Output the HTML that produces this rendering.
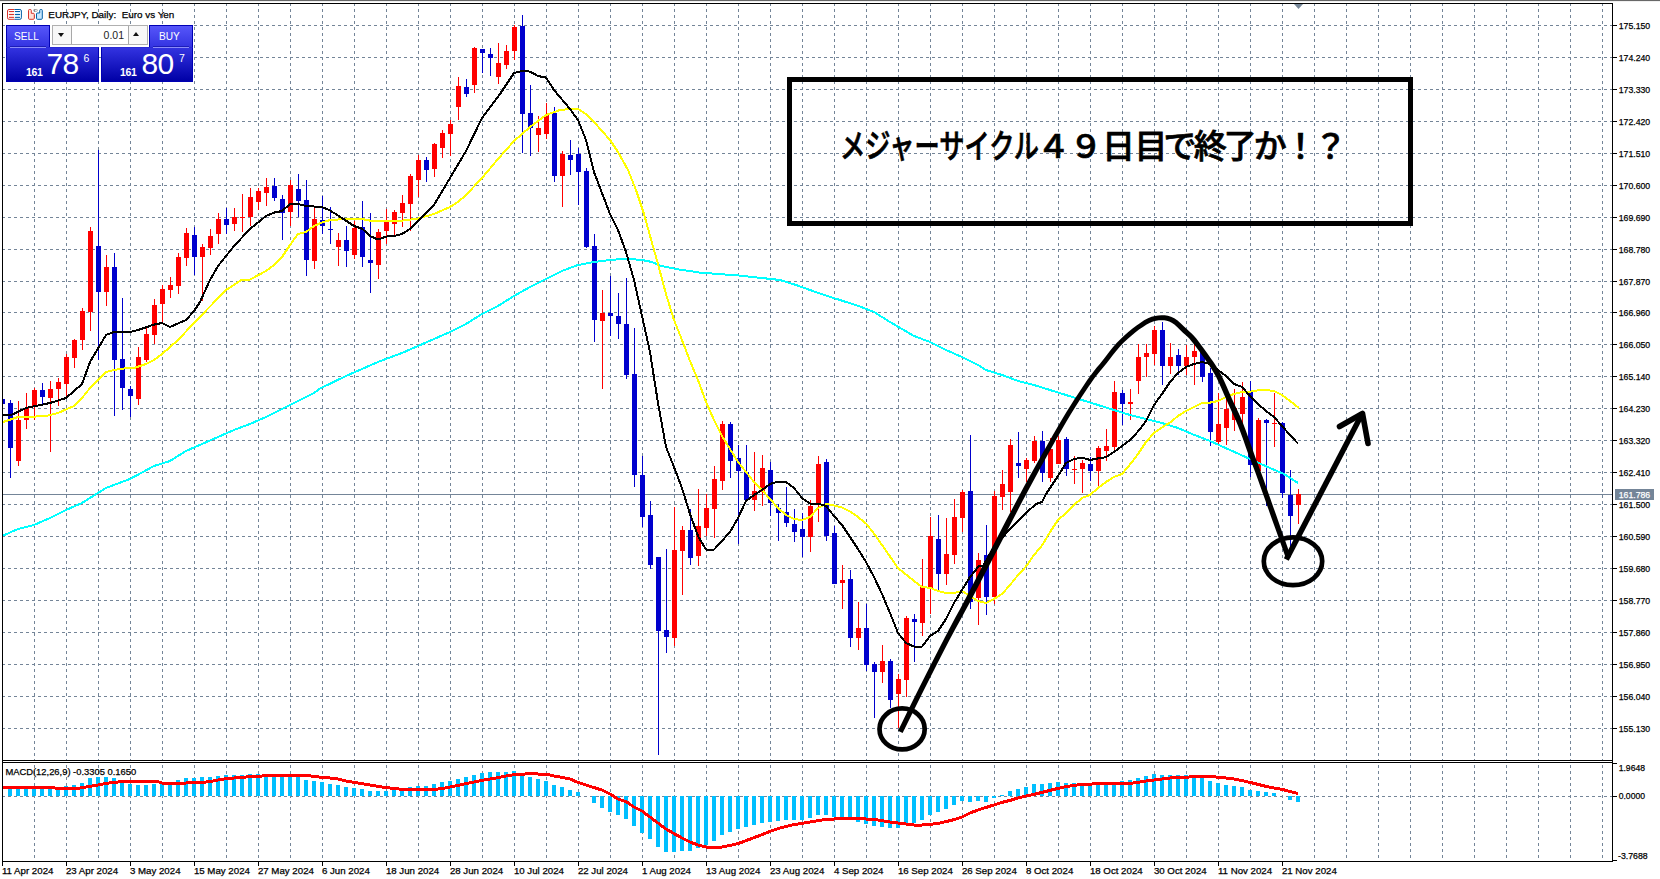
<!DOCTYPE html>
<html lang="ja"><head><meta charset="utf-8"><title>EURJPY, Daily</title>
<style>
html,body{margin:0;padding:0;background:#fff;}
body{width:1660px;height:879px;position:relative;overflow:hidden;font-family:"Liberation Sans","Noto Sans CJK JP",sans-serif;}
svg{position:absolute;left:0;top:0;display:block;}
.ax{font-family:"Liberation Sans",sans-serif;font-size:9.7px;fill:#000;stroke:#000;stroke-width:0.25px;}
.dt{font-family:"Liberation Sans",sans-serif;font-size:9.7px;fill:#000;stroke:#000;stroke-width:0.25px;}
.crisp{shape-rendering:crispEdges;}
#oct{position:absolute;left:0;top:0;width:200px;height:90px;font-family:"Liberation Sans",sans-serif;color:#fff;}
#oct div{position:absolute;box-sizing:border-box;}
.btn{background:linear-gradient(#5656fa,#3232e0);border:1px solid #0000b4;border-bottom:0;text-align:center;font-size:11px;line-height:20px;}
.btn b{font-weight:normal;display:inline-block;transform:scaleX(0.92);position:relative;left:-1.5px;top:-0.5px;}
.pr{background:linear-gradient(#3232e0,#0000a6);border:1px solid #0000b4;border-top-color:#2a2ad4;}
.pr span{position:absolute;white-space:nowrap;line-height:1;}
#note{position:absolute;left:787px;top:77px;width:626px;height:149px;box-sizing:border-box;border:5px solid #000;}
#note p{position:absolute;margin:0;left:48px;top:44.5px;white-space:nowrap;font-family:"Liberation Sans","Noto Sans CJK JP",sans-serif;font-weight:500;-webkit-text-stroke:0.7px #000;font-size:33px;line-height:40px;color:#000;}
#note .k{display:inline-block;transform:scaleX(0.765);transform-origin:0 50%;margin-right:-63px;}
#note .d{letter-spacing:-0.5px;}
#note .h{letter-spacing:-2.9px;margin-left:-3.5px;}
</style></head>
<body>
<svg width="1660" height="879" viewBox="0 0 1660 879">
<defs><clipPath id="cm"><rect x="3" y="4" width="1609" height="756"/></clipPath><clipPath id="cd"><rect x="3" y="763" width="1609" height="98"/></clipPath></defs>
<rect x="0" y="0" width="1660" height="1" fill="#686868"/><rect x="0" y="1" width="1660" height="1" fill="#f0f0f0"/>
<path class="crisp" d="M34.5 3V861M66.5 3V861M98.5 3V861M130.5 3V861M162.5 3V861M194.5 3V861M226.5 3V861M258.5 3V861M290.5 3V861M322.5 3V861M354.5 3V861M386.5 3V861M418.5 3V861M450.5 3V861M482.5 3V861M514.5 3V861M546.5 3V861M578.5 3V861M610.5 3V861M642.5 3V861M674.5 3V861M706.5 3V861M738.5 3V861M770.5 3V861M802.5 3V861M834.5 3V861M866.5 3V861M898.5 3V861M930.5 3V861M962.5 3V861M994.5 3V861M1026.5 3V861M1058.5 3V861M1090.5 3V861M1122.5 3V861M1154.5 3V861M1186.5 3V861M1218.5 3V861M1250.5 3V861M1282.5 3V861M1314.5 3V861M1346.5 3V861M1378.5 3V861M1410.5 3V861M1442.5 3V861M1474.5 3V861M1506.5 3V861M1538.5 3V861M1570.5 3V861M1602.5 3V861M2 25.5H1612M2 57.5H1612M2 89.5H1612M2 121.5H1612M2 153.5H1612M2 185.5H1612M2 217.5H1612M2 249.5H1612M2 281.5H1612M2 312.5H1612M2 344.5H1612M2 376.5H1612M2 408.5H1612M2 440.5H1612M2 472.5H1612M2 504.5H1612M2 536.5H1612M2 568.5H1612M2 600.5H1612M2 632.5H1612M2 664.5H1612M2 696.5H1612M2 728.5H1612M2 796.5H1612" stroke="#748598" stroke-width="1" stroke-dasharray="3 3" fill="none"/>
<rect class="crisp" x="3" y="494" width="1609" height="1" fill="#748598"/>
<g class="crisp" clip-path="url(#cm)">
<path d="M18 401h1v65h-1zM16 420h5v41h-5zM26 393h1v36h-1zM24 408h5v12h-5zM34 388h1v32h-1zM32 390h5v17h-5zM50 381h1v71h-1zM48 389h5v9h-5zM58 378h1v28h-1zM56 382h5v7h-5zM66 354h1v42h-1zM64 357h5v27h-5zM74 339h1v29h-1zM72 340h5v18h-5zM82 308h1v42h-1zM80 311h5v29h-5zM90 227h1v104h-1zM88 231h5v81h-5zM106 255h1v51h-1zM104 267h5v25h-5zM138 347h1v58h-1zM136 357h5v42h-5zM146 328h1v34h-1zM144 334h5v26h-5zM154 299h1v45h-1zM152 305h5v30h-5zM162 285h1v37h-1zM160 289h5v15h-5zM170 277h1v21h-1zM168 285h5v5h-5zM178 253h1v41h-1zM176 257h5v29h-5zM186 228h1v38h-1zM184 233h5v25h-5zM202 244h1v57h-1zM200 247h5v10h-5zM210 229h1v26h-1zM208 236h5v12h-5zM218 213h1v31h-1zM216 219h5v15h-5zM234 208h1v23h-1zM232 217h5v7h-5zM242 194h1v38h-1zM240 217h5v1h-5zM250 188h1v38h-1zM248 197h5v20h-5zM258 188h1v22h-1zM256 191h5v11h-5zM266 178h1v28h-1zM264 187h5v6h-5zM290 180h1v46h-1zM288 185h5v27h-5zM314 207h1v62h-1zM312 219h5v42h-5zM338 233h1v33h-1zM336 240h5v7h-5zM354 221h1v38h-1zM352 228h5v27h-5zM378 229h1v50h-1zM376 232h5v33h-5zM386 209h1v35h-1zM384 221h5v10h-5zM394 210h1v25h-1zM392 212h5v12h-5zM402 195h1v32h-1zM400 203h5v10h-5zM410 174h1v57h-1zM408 176h5v28h-5zM418 155h1v42h-1zM416 160h5v20h-5zM434 143h1v34h-1zM432 144h5v25h-5zM442 130h1v28h-1zM440 133h5v15h-5zM450 120h1v36h-1zM448 124h5v10h-5zM458 77h1v43h-1zM456 86h5v21h-5zM474 47h1v46h-1zM472 48h5v37h-5zM498 43h1v41h-1zM496 63h5v14h-5zM506 45h1v24h-1zM504 51h5v14h-5zM514 25h1v35h-1zM512 27h5v24h-5zM538 116h1v36h-1zM536 128h5v7h-5zM546 103h1v36h-1zM544 115h5v19h-5zM562 151h1v56h-1zM560 154h5v22h-5zM602 290h1v99h-1zM600 313h5v8h-5zM674 507h1v139h-1zM672 550h5v88h-5zM682 526h1v69h-1zM680 530h5v21h-5zM698 489h1v77h-1zM696 526h5v30h-5zM706 494h1v42h-1zM704 508h5v20h-5zM714 466h1v72h-1zM712 479h5v30h-5zM722 421h1v69h-1zM720 424h5v57h-5zM754 452h1v59h-1zM752 491h5v9h-5zM762 455h1v51h-1zM760 468h5v24h-5zM810 500h1v52h-1zM808 506h5v31h-5zM818 456h1v66h-1zM816 464h5v41h-5zM842 565h1v44h-1zM840 580h5v3h-5zM858 602h1v48h-1zM856 628h5v10h-5zM882 645h1v38h-1zM880 661h5v11h-5zM898 674h1v54h-1zM896 679h5v15h-5zM906 616h1v81h-1zM904 618h5v62h-5zM922 559h1v77h-1zM920 586h5v37h-5zM930 517h1v97h-1zM928 536h5v52h-5zM946 518h1v67h-1zM944 554h5v20h-5zM954 499h1v65h-1zM952 517h5v38h-5zM962 490h1v42h-1zM960 492h5v26h-5zM978 553h1v72h-1zM976 560h5v38h-5zM994 491h1v113h-1zM992 496h5v101h-5zM1002 470h1v40h-1zM1000 484h5v13h-5zM1010 439h1v73h-1zM1008 445h5v47h-5zM1026 458h1v24h-1zM1024 460h5v9h-5zM1034 436h1v27h-1zM1032 441h5v20h-5zM1050 438h1v44h-1zM1048 449h5v29h-5zM1058 436h1v28h-1zM1056 440h5v24h-5zM1074 456h1v28h-1zM1072 469h5v1h-5zM1082 460h1v33h-1zM1080 463h5v6h-5zM1098 446h1v42h-1zM1096 448h5v23h-5zM1106 429h1v32h-1zM1104 446h5v5h-5zM1114 381h1v71h-1zM1112 392h5v55h-5zM1130 389h1v31h-1zM1128 402h5v2h-5zM1138 344h1v50h-1zM1136 357h5v24h-5zM1146 344h1v33h-1zM1144 353h5v4h-5zM1154 326h1v39h-1zM1152 330h5v24h-5zM1170 343h1v31h-1zM1168 357h5v9h-5zM1186 345h1v30h-1zM1184 357h5v9h-5zM1194 343h1v42h-1zM1192 351h5v6h-5zM1218 393h1v51h-1zM1216 424h5v18h-5zM1226 399h1v46h-1zM1224 409h5v19h-5zM1234 389h1v42h-1zM1232 408h5v12h-5zM1242 382h1v46h-1zM1240 397h5v17h-5zM1258 418h1v54h-1zM1256 420h5v51h-5zM1274 393h1v54h-1zM1272 423h5v1h-5zM1298 489h1v35h-1zM1296 494h5v11h-5z" fill="#ff0000"/>
<path d="M2 397h1v9h-1zM0 399h5v5h-5zM10 400h1v78h-1zM8 403h5v45h-5zM42 383h1v22h-1zM40 390h5v7h-5zM98 150h1v210h-1zM96 246h5v46h-5zM114 253h1v163h-1zM112 267h5v93h-5zM122 298h1v112h-1zM120 359h5v29h-5zM130 386h1v31h-1zM128 389h5v7h-5zM194 227h1v48h-1zM192 235h5v22h-5zM226 208h1v26h-1zM224 219h5v6h-5zM274 178h1v23h-1zM272 186h5v12h-5zM282 195h1v45h-1zM280 199h5v14h-5zM298 174h1v43h-1zM296 189h5v12h-5zM306 180h1v96h-1zM304 200h5v60h-5zM322 196h1v38h-1zM320 220h5v6h-5zM330 207h1v37h-1zM328 229h5v1h-5zM346 226h1v41h-1zM344 240h5v11h-5zM362 201h1v66h-1zM360 227h5v30h-5zM370 213h1v80h-1zM368 260h5v3h-5zM426 157h1v25h-1zM424 160h5v10h-5zM466 79h1v18h-1zM464 87h5v7h-5zM482 49h1v24h-1zM480 49h5v4h-5zM490 48h1v28h-1zM488 54h5v4h-5zM522 15h1v138h-1zM520 26h5v88h-5zM530 85h1v71h-1zM528 113h5v15h-5zM554 107h1v75h-1zM552 113h5v63h-5zM570 140h1v35h-1zM568 155h5v5h-5zM578 148h1v57h-1zM576 154h5v18h-5zM586 168h1v80h-1zM584 171h5v76h-5zM594 234h1v108h-1zM592 246h5v74h-5zM610 276h1v60h-1zM608 313h5v3h-5zM618 293h1v46h-1zM616 316h5v8h-5zM626 278h1v101h-1zM624 324h5v51h-5zM634 328h1v159h-1zM632 374h5v101h-5zM642 456h1v71h-1zM640 475h5v42h-5zM650 501h1v68h-1zM648 515h5v50h-5zM658 557h1v198h-1zM656 557h5v74h-5zM666 549h1v104h-1zM664 630h5v7h-5zM690 509h1v56h-1zM688 530h5v28h-5zM730 422h1v56h-1zM728 424h5v37h-5zM738 445h1v99h-1zM736 458h5v13h-5zM746 445h1v55h-1zM744 472h5v28h-5zM770 462h1v54h-1zM768 470h5v33h-5zM778 504h1v37h-1zM776 508h5v5h-5zM786 487h1v40h-1zM784 512h5v11h-5zM794 509h1v33h-1zM792 524h5v8h-5zM802 513h1v44h-1zM800 529h5v8h-5zM826 459h1v82h-1zM824 462h5v74h-5zM834 526h1v58h-1zM832 533h5v51h-5zM850 570h1v77h-1zM848 579h5v59h-5zM866 604h1v67h-1zM864 628h5v37h-5zM874 662h1v56h-1zM872 664h5v8h-5zM890 659h1v49h-1zM888 661h5v39h-5zM914 614h1v48h-1zM912 619h5v3h-5zM938 515h1v75h-1zM936 539h5v35h-5zM970 435h1v174h-1zM968 491h5v111h-5zM986 525h1v90h-1zM984 555h5v42h-5zM1018 432h1v46h-1zM1016 463h5v3h-5zM1042 431h1v51h-1zM1040 441h5v32h-5zM1066 437h1v39h-1zM1064 439h5v30h-5zM1090 457h1v24h-1zM1088 464h5v7h-5zM1122 390h1v35h-1zM1120 393h5v11h-5zM1162 322h1v63h-1zM1160 330h5v36h-5zM1178 349h1v26h-1zM1176 355h5v11h-5zM1202 352h1v30h-1zM1200 352h5v25h-5zM1210 368h1v78h-1zM1208 373h5v59h-5zM1250 381h1v96h-1zM1248 392h5v73h-5zM1266 419h1v87h-1zM1264 420h5v3h-5zM1282 422h1v76h-1zM1280 423h5v70h-5zM1290 470h1v86h-1zM1288 495h5v21h-5z" fill="#0000cd"/>
</g>
<g clip-path="url(#cm)" class="crisp">
<polyline points="3,535.6 18,529 34,525 50,518 66,510 82,503 98,493 106,488 130,479 154,466 170,461 186,451 202,444 218,437 234,430 250,424 266,417 282,409 298,401 314,393 320,388.5 346,376 362,369 378,362 402,353 418,346 434,339 450,332 466,324 482,314 498,306 514,296 530,287 546,279 562,271 578,265 594,262 610,260 626,258.6 642,260 652,262 660,265.6 676,269 700,272.6 740,275.6 780,280 796,285 820,293.6 840,300 860,306.5 874,312 890,322 914,336 930,342 946,350 962,357 978,365 986,370 1002,375 1018,381 1034,385 1050,390 1066,395 1082,400 1098,405 1114,410 1130,415 1146,419 1162,423 1178,428 1192,434 1210,441 1230,450 1250,459 1270,468 1284,474 1298,483" fill="none" stroke="#00ffff" stroke-width="2" stroke-linejoin="round" />
<polyline points="3,422 18,417 34,416.6 46,416 58,413 74,406 82,398 90,388 98,380 106,372 114,370 122,368.6 134,368 146,364 154,360 162,354 178,340 194,323 210,306.5 226,290 242,279.6 250,279.6 266,271 274,265 282,257 290,245 298,234 306,232 314,226 322,222.5 330,220 346,219 362,219 370,220.6 386,221.4 402,220.6 418,218.6 434,214 450,207 458,202 466,195 482,178 498,159 514,141 530,127 546,115 560,110 570,109 578,109 586,114 594,122 610,140 618,152 628,170 636,190 644,214 652,243 658,264 666,294 674,320 682,340 690,361 698,380 706,402 714,420 722,436 730,449 738,462 746,472 754,482 762,490 770,499 778,508 786,515 794,519 802,520 810,517 818,508 826,504 834,505.5 842,507.5 850,511.5 858,517 866,523.5 874,533.5 882,545 890,556.5 898,568 906,574.5 914,581 922,587 930,587.8 938,591 946,593 954,593 962,591 970,596 978,601 986,603 994,599 1002,594 1010,585 1018,575 1026,566.5 1034,555 1042,545.5 1050,532 1058,520 1066,513 1074,505 1082,498 1090,495 1098,488 1106,482 1114,477 1122,474 1130,464.5 1138,454 1146,442 1154,433 1162,427.5 1170,422.5 1178,416 1186,411 1194,407 1202,403 1210,402.6 1218,401 1226,397 1234,394 1242,392 1250,391.6 1258,390.4 1266,390 1274,391 1282,395 1290,401 1299,408" fill="none" stroke="#ffff00" stroke-width="2" stroke-linejoin="round" />
<polyline points="3,415 12,414.6 26,408 50,403 66,398 82,384 90,362 106,335 114,332 130,332 138,330 154,324.6 162,323 170,327 186,320 194,311 200,302 210,280 218,266 234,246 250,229 266,216 274,212.6 282,211 290,204 298,204 306,206 322,207 330,210.5 342,218 354,226 362,228.6 370,236 378,239.6 386,236.6 394,236 402,234 410,229 418,221 434,205 450,178 466,151 482,118 500,94 514,73 522,71 530,71.6 538,76 546,77.6 554,90 570,109 578,120 586,140 594,172 610,214 618,230 626,252 634,280 642,316 650,352 658,403 666,447 674,467 682,488 690,514 698,536 706,549.6 714,549.6 730,532 738,518 746,501 754,495 762,490 770,484 778,481.6 786,482 794,488 802,498 810,503.6 818,503.6 826,506 834,516 842,525 858,549 866,562 874,577 882,594 890,613 898,633 906,643 914,646.6 922,646.6 930,636 938,631 946,619 954,603 962,590 970,577 979,566 983,566 994,547 1010,529 1026,513 1036,504 1042,502 1046,494 1058,476 1066,463 1074,459 1082,457.6 1090,460 1098,458.4 1106,457.2 1114,452 1122,446 1130,440 1138,431.5 1146,421 1154,405 1162,394 1170,382 1178,373 1186,367 1194,364 1202,362 1210,364 1218,370 1226,376 1234,384 1242,387 1250,396 1258,404 1266,411 1274,417 1282,426 1290,435 1298,443.6" fill="none" stroke="#000000" stroke-width="2" stroke-linejoin="round" />
</g>
<g class="crisp" clip-path="url(#cd)">
<path d="M8 788h4v8h-4zM16 788h4v8h-4zM24 788h4v8h-4zM32 788h4v8h-4zM40 788h4v8h-4zM48 788h4v8h-4zM56 788h4v8h-4zM64 786h4v10h-4zM72 785h4v11h-4zM80 783h4v13h-4zM88 778h4v18h-4zM96 777h4v19h-4zM104 777h4v19h-4zM112 778h4v18h-4zM120 782h4v14h-4zM128 784h4v12h-4zM136 785h4v11h-4zM144 785h4v11h-4zM152 784h4v12h-4zM160 783h4v13h-4zM168 782h4v14h-4zM176 780h4v16h-4zM184 778h4v18h-4zM192 778h4v18h-4zM200 777h4v19h-4zM208 777h4v19h-4zM216 776h4v20h-4zM224 775h4v21h-4zM232 775h4v21h-4zM240 775h4v21h-4zM248 774h4v22h-4zM256 774h4v22h-4zM264 774h4v22h-4zM272 775h4v21h-4zM280 775h4v21h-4zM288 775h4v21h-4zM296 776h4v20h-4zM304 780h4v16h-4zM312 781h4v15h-4zM320 782h4v14h-4zM328 784h4v12h-4zM336 785h4v11h-4zM344 787h4v9h-4zM352 788h4v8h-4zM360 789h4v7h-4zM368 791h4v5h-4zM376 791h4v5h-4zM384 791h4v5h-4zM392 789h4v7h-4zM400 788h4v8h-4zM408 787h4v9h-4zM416 786h4v10h-4zM424 786h4v10h-4zM432 784h4v12h-4zM440 782h4v14h-4zM448 781h4v15h-4zM456 779h4v17h-4zM464 777h4v19h-4zM472 775h4v21h-4zM480 773h4v23h-4zM488 772h4v24h-4zM496 772h4v24h-4zM504 772h4v24h-4zM512 771h4v25h-4zM520 775h4v21h-4zM528 777h4v19h-4zM536 779h4v17h-4zM544 781h4v15h-4zM552 785h4v11h-4zM560 787h4v9h-4zM568 790h4v6h-4zM576 792h4v4h-4zM592 796h4v7h-4zM600 796h4v12h-4zM608 796h4v16h-4zM616 796h4v19h-4zM624 796h4v23h-4zM632 796h4v30h-4zM640 796h4v37h-4zM648 796h4v43h-4zM656 796h4v51h-4zM664 796h4v56h-4zM672 796h4v56h-4zM680 796h4v55h-4zM688 796h4v55h-4zM696 796h4v52h-4zM704 796h4v49h-4zM712 796h4v45h-4zM720 796h4v39h-4zM728 796h4v36h-4zM736 796h4v33h-4zM744 796h4v31h-4zM752 796h4v29h-4zM760 796h4v27h-4zM768 796h4v26h-4zM776 796h4v25h-4zM784 796h4v24h-4zM792 796h4v24h-4zM800 796h4v24h-4zM808 796h4v22h-4zM816 796h4v19h-4zM824 796h4v19h-4zM832 796h4v21h-4zM840 796h4v22h-4zM848 796h4v22h-4zM856 796h4v26h-4zM864 796h4v28h-4zM872 796h4v30h-4zM880 796h4v31h-4zM888 796h4v32h-4zM896 796h4v32h-4zM904 796h4v28h-4zM912 796h4v27h-4zM920 796h4v24h-4zM928 796h4v19h-4zM936 796h4v16h-4zM944 796h4v13h-4zM952 796h4v9h-4zM960 796h4v5h-4zM968 796h4v6h-4zM976 796h4v5h-4zM984 796h4v6h-4zM992 796h4v2h-4zM1000 795h4v1h-4zM1008 791h4v5h-4zM1016 789h4v7h-4zM1024 787h4v9h-4zM1032 784h4v12h-4zM1040 784h4v12h-4zM1048 783h4v13h-4zM1056 782h4v14h-4zM1064 783h4v13h-4zM1072 783h4v13h-4zM1080 784h4v12h-4zM1088 784h4v12h-4zM1096 783h4v13h-4zM1104 783h4v13h-4zM1112 782h4v14h-4zM1120 781h4v15h-4zM1128 780h4v16h-4zM1136 778h4v18h-4zM1144 776h4v20h-4zM1152 774h4v22h-4zM1160 775h4v21h-4zM1168 775h4v21h-4zM1176 775h4v21h-4zM1184 775h4v21h-4zM1192 776h4v20h-4zM1200 777h4v19h-4zM1208 781h4v15h-4zM1216 783h4v13h-4zM1224 785h4v11h-4zM1232 786h4v10h-4zM1240 787h4v9h-4zM1248 790h4v6h-4zM1256 791h4v5h-4zM1264 792h4v4h-4zM1272 793h4v3h-4zM1288 796h4v4h-4zM1296 796h4v6h-4z" fill="#00bfff"/>
<polyline points="3,787.6 54,787.6 56,788.4 78,788.4 86,787 98,785 106,783.4 114,782.4 122,781.6 158,781.6 162,783 186,783 194,782.4 202,782.4 210,781.6 218,780 226,778.6 234,778 242,777.4 250,776.6 258,776.4 266,775.6 308,775.6 314,776.4 322,777.4 330,778 338,779 346,781 354,782.4 362,783.6 370,785 378,786.4 386,787.6 394,788.4 402,789.4 434,789.4 442,788.6 450,787 458,785.4 466,783.6 474,782 482,780.4 490,779 498,777.6 506,776 514,774.6 522,774.4 530,773.4 538,774 546,774 554,776 562,777.4 570,779 578,782.4 586,785 594,787.6 602,790 610,794 618,799 626,801.6 634,807 642,811 650,817 658,823 666,829 674,833.6 682,838 690,842 698,845 706,847 714,847.4 722,847 730,845.4 738,843.6 746,840.6 754,837.6 762,834.6 770,831.4 778,828.6 786,826.4 794,824.6 802,823.4 810,822 818,820.6 826,819.4 834,819 842,818 858,818 866,819 874,819.4 882,820.6 890,822 898,823 906,824 914,825 922,825 930,824.4 938,823.4 946,821.6 954,819.6 962,817 970,813 978,810 986,807.4 994,805 1002,802.4 1010,800.4 1018,798 1026,796 1034,794.4 1042,792.4 1050,790.4 1058,788.4 1066,786.6 1074,785.4 1082,784.4 1090,784.2 1098,783.4 1130,783.4 1138,782.4 1146,781 1154,780 1162,779 1170,778 1178,777.4 1186,777.2 1194,776.6 1212,776.6 1218,777.2 1226,778 1234,779 1242,780.6 1250,782.4 1258,784.4 1266,786.4 1274,788 1282,789.4 1290,791.5 1298,793.6" fill="none" stroke="#ff0000" stroke-width="3" stroke-linejoin="round" />
</g>
<rect x="0" y="761" width="1660" height="1" fill="#fff"/>
<path class="crisp" d="M2 3h1611v1h-1611zM2 3h1v859h-1zM1612 3h1v859h-1zM2 760h1611v1h-1611zM2 762h1611v1h-1611zM2 861h1611v1h-1611z" fill="#000"/>
<path class="crisp" d="M1613 25h4v1h-4zM1613 57h4v1h-4zM1613 89h4v1h-4zM1613 121h4v1h-4zM1613 153h4v1h-4zM1613 185h4v1h-4zM1613 217h4v1h-4zM1613 249h4v1h-4zM1613 281h4v1h-4zM1613 312h4v1h-4zM1613 344h4v1h-4zM1613 376h4v1h-4zM1613 408h4v1h-4zM1613 440h4v1h-4zM1613 472h4v1h-4zM1613 504h4v1h-4zM1613 536h4v1h-4zM1613 568h4v1h-4zM1613 600h4v1h-4zM1613 632h4v1h-4zM1613 664h4v1h-4zM1613 696h4v1h-4zM1613 728h4v1h-4zM1613 763h4v1h-4zM1613 796h4v1h-4zM1613 860h4v1h-4zM2 862h1v4h-1zM66 862h1v4h-1zM130 862h1v4h-1zM194 862h1v4h-1zM258 862h1v4h-1zM322 862h1v4h-1zM386 862h1v4h-1zM450 862h1v4h-1zM514 862h1v4h-1zM578 862h1v4h-1zM642 862h1v4h-1zM706 862h1v4h-1zM770 862h1v4h-1zM834 862h1v4h-1zM898 862h1v4h-1zM962 862h1v4h-1zM1026 862h1v4h-1zM1090 862h1v4h-1zM1154 862h1v4h-1zM1218 862h1v4h-1zM1282 862h1v4h-1z" fill="#000"/>
<path d="M1294 4h9l-4.5 5z" fill="#778899"/>
<text class="ax" x="1618.7" y="29" textLength="31.5" lengthAdjust="spacingAndGlyphs">175.150</text><text class="ax" x="1618.7" y="61" textLength="31.5" lengthAdjust="spacingAndGlyphs">174.240</text><text class="ax" x="1618.7" y="93" textLength="31.5" lengthAdjust="spacingAndGlyphs">173.330</text><text class="ax" x="1618.7" y="125" textLength="31.5" lengthAdjust="spacingAndGlyphs">172.420</text><text class="ax" x="1618.7" y="157" textLength="31.5" lengthAdjust="spacingAndGlyphs">171.510</text><text class="ax" x="1618.7" y="189" textLength="31.5" lengthAdjust="spacingAndGlyphs">170.600</text><text class="ax" x="1618.7" y="221" textLength="31.5" lengthAdjust="spacingAndGlyphs">169.690</text><text class="ax" x="1618.7" y="253" textLength="31.5" lengthAdjust="spacingAndGlyphs">168.780</text><text class="ax" x="1618.7" y="285" textLength="31.5" lengthAdjust="spacingAndGlyphs">167.870</text><text class="ax" x="1618.7" y="316" textLength="31.5" lengthAdjust="spacingAndGlyphs">166.960</text><text class="ax" x="1618.7" y="348" textLength="31.5" lengthAdjust="spacingAndGlyphs">166.050</text><text class="ax" x="1618.7" y="380" textLength="31.5" lengthAdjust="spacingAndGlyphs">165.140</text><text class="ax" x="1618.7" y="412" textLength="31.5" lengthAdjust="spacingAndGlyphs">164.230</text><text class="ax" x="1618.7" y="444" textLength="31.5" lengthAdjust="spacingAndGlyphs">163.320</text><text class="ax" x="1618.7" y="476" textLength="31.5" lengthAdjust="spacingAndGlyphs">162.410</text><text class="ax" x="1618.7" y="508" textLength="31.5" lengthAdjust="spacingAndGlyphs">161.500</text><text class="ax" x="1618.7" y="540" textLength="31.5" lengthAdjust="spacingAndGlyphs">160.590</text><text class="ax" x="1618.7" y="572" textLength="31.5" lengthAdjust="spacingAndGlyphs">159.680</text><text class="ax" x="1618.7" y="604" textLength="31.5" lengthAdjust="spacingAndGlyphs">158.770</text><text class="ax" x="1618.7" y="636" textLength="31.5" lengthAdjust="spacingAndGlyphs">157.860</text><text class="ax" x="1618.7" y="668" textLength="31.5" lengthAdjust="spacingAndGlyphs">156.950</text><text class="ax" x="1618.7" y="700" textLength="31.5" lengthAdjust="spacingAndGlyphs">156.040</text><text class="ax" x="1618.7" y="732" textLength="31.5" lengthAdjust="spacingAndGlyphs">155.130</text>
<text class="ax" x="1618.7" y="771" textLength="26.3" lengthAdjust="spacingAndGlyphs">1.9648</text><text class="ax" x="1618.7" y="799.2" textLength="26.3" lengthAdjust="spacingAndGlyphs">0.0000</text><text class="ax" x="1618" y="859" textLength="29.7" lengthAdjust="spacingAndGlyphs">-3.7688</text>
<rect class="crisp" x="1615" y="489" width="39" height="11" fill="#748598"/><text class="ax" x="1618.7" y="498" textLength="31.5" lengthAdjust="spacingAndGlyphs" style="fill:#fff;stroke:#fff">161.786</text>
<text class="dt" x="1.9" y="874">11 Apr 2024</text><text class="dt" x="65.9" y="874">23 Apr 2024</text><text class="dt" x="129.9" y="874">3 May 2024</text><text class="dt" x="193.9" y="874">15 May 2024</text><text class="dt" x="257.9" y="874">27 May 2024</text><text class="dt" x="321.9" y="874">6 Jun 2024</text><text class="dt" x="385.9" y="874">18 Jun 2024</text><text class="dt" x="449.9" y="874">28 Jun 2024</text><text class="dt" x="513.9" y="874">10 Jul 2024</text><text class="dt" x="577.9" y="874">22 Jul 2024</text><text class="dt" x="641.9" y="874">1 Aug 2024</text><text class="dt" x="705.9" y="874">13 Aug 2024</text><text class="dt" x="769.9" y="874">23 Aug 2024</text><text class="dt" x="833.9" y="874">4 Sep 2024</text><text class="dt" x="897.9" y="874">16 Sep 2024</text><text class="dt" x="961.9" y="874">26 Sep 2024</text><text class="dt" x="1025.9" y="874">8 Oct 2024</text><text class="dt" x="1089.9" y="874">18 Oct 2024</text><text class="dt" x="1153.9" y="874">30 Oct 2024</text><text class="dt" x="1217.9" y="874">11 Nov 2024</text><text class="dt" x="1281.9" y="874">21 Nov 2024</text>
<text class="dt" x="5.4" y="775" textLength="130.8" lengthAdjust="spacingAndGlyphs">MACD(12,26,9) -0.3305 0.1650</text>
<text class="dt" x="48.3" y="18.2" xml:space="preserve" style="font-size:9.9px;white-space:pre">EURJPY, Daily:  Euro vs Yen</text>
<g fill="none" stroke-width="1"><path d="M14.4 9.5H9a1.5 1.5 0 0 0-1.5 1.5v6.8a1.5 1.5 0 0 0 1.5 1.5h5.4" stroke="#d9342b" fill="#fff"/><path d="M14.4 9.5h5.5a1.5 1.5 0 0 1 1.5 1.5v6.8a1.5 1.5 0 0 1-1.5 1.5h-5.5" stroke="#0060a8" fill="#fff"/><path d="M9.3 12v5h4.4v-5z" fill="#ffe9e2" stroke="none"/><path d="M15.3 12v5h4.4v-5z" fill="#d8f0ff" stroke="none"/><path d="M9.3 11.5h4.4M9.3 14.5h4.4M9.3 17.4h4.4" stroke="#d9342b" stroke-linecap="round"/><path d="M15.3 11.5h4.4M15.3 14.5h4.4M15.3 17.4h4.4" stroke="#0060a8" stroke-linecap="round"/><path d="M28.5 18.3v-7.8a1 1 0 0 1 1-1h0.8a1 1 0 0 1 1 1v2.8h2a1 1 0 0 1 1 1v4a1 1 0 0 1-1 1h-3.8a1 1 0 0 1-1-1z" stroke="#d9342b" fill="#ffe0d8"/><path d="M42.3 18.3v-7.8a1 1 0 0 0-1-1h-0.6a1 1 0 0 0-1 1v2.5h-2.2a1 1 0 0 0-1 1v4.3a1 1 0 0 0 1 1h3.8a1 1 0 0 0 1-1z" stroke="#0060a8" fill="#c8e8ff"/><rect x="33.6" y="9.5" width="3.8" height="1.8" rx="0.8" stroke="#a4a4a4"/></g>
<path d="M902.6 732.9L906.2 725.7L911.4 715.2L917.3 703.2L923.3 691.2L929.6 678.8L936.3 665.5L943.1 652.3L949.3 640.2L954.8 629.9L959.9 620.7L964.9 611.6L970.5 601.3L976.7 589.6L983.2 577.0L990.0 564.1L996.6 551.3L1003.1 538.7L1009.6 525.9L1016.1 513.4L1022.4 501.3L1028.6 489.7L1034.7 478.4L1040.6 467.6L1046.3 457.3L1051.7 447.4L1057.0 438.0L1062.0 429.2L1066.6 421.2L1070.8 414.3L1074.5 408.2L1078.0 402.7L1081.5 397.3L1085.0 392.0L1088.3 387.1L1091.5 382.4L1094.6 378.0L1097.6 374.2L1100.4 370.7L1103.3 367.3L1106.4 363.5L1109.7 359.3L1113.1 354.8L1116.6 350.4L1120.2 346.3L1123.8 342.6L1127.6 339.0L1131.4 335.7L1135.2 332.6L1139.0 329.6L1142.9 326.9L1146.6 324.5L1150.0 322.7L1153.1 321.5L1156.0 320.7L1158.8 320.3L1161.5 320.2L1164.2 320.3L1166.7 320.7L1169.2 321.5L1171.7 322.7L1174.4 324.6L1177.4 327.3L1180.4 330.2L1183.2 332.9L1185.6 335.0L1187.5 336.8L1189.5 338.8L1191.9 341.7L1195.3 345.9L1199.1 351.1L1203.0 356.6L1206.5 361.5L1209.3 365.6L1211.6 369.2L1213.9 372.9L1216.3 377.3L1218.8 382.6L1221.5 388.6L1224.3 394.9L1227.0 401.1L1229.7 407.1L1232.4 412.9L1235.1 418.8L1237.7 425.0L1240.3 431.7L1242.9 438.8L1245.4 446.0L1247.9 452.9L1250.3 459.3L1252.6 465.3L1255.0 471.6L1257.7 478.9L1260.8 487.7L1264.3 497.5L1267.9 507.7L1271.5 517.9L1275.5 529.0L1279.7 540.8L1283.5 551.5L1286.2 558.9L1291.0 557.1L1288.4 549.7L1284.6 539.1L1280.4 527.2L1276.5 516.1L1272.9 505.9L1269.3 495.7L1265.9 485.9L1262.7 477.1L1260.0 469.7L1257.7 463.4L1255.4 457.4L1253.1 451.1L1250.6 444.1L1248.1 436.9L1245.5 429.8L1242.9 423.0L1240.2 416.6L1237.4 410.6L1234.7 404.8L1232.0 398.9L1229.3 392.7L1226.6 386.4L1223.8 380.3L1221.1 374.7L1218.6 370.2L1216.2 366.3L1213.8 362.6L1210.9 358.5L1207.4 353.5L1203.4 348.0L1199.5 342.7L1196.1 338.3L1193.4 335.2L1191.1 333.0L1189.1 331.2L1186.8 329.1L1184.0 326.4L1180.9 323.5L1177.6 320.6L1174.3 318.3L1171.0 316.8L1167.8 315.8L1164.7 315.3L1161.5 315.2L1158.3 315.4L1155.0 315.9L1151.6 316.8L1148.0 318.3L1144.1 320.3L1140.2 322.9L1136.2 325.8L1132.2 328.8L1128.3 332.0L1124.3 335.5L1120.4 339.2L1116.6 343.1L1112.9 347.3L1109.3 351.8L1105.9 356.3L1102.6 360.5L1099.6 364.2L1096.7 367.6L1093.8 371.2L1090.8 375.2L1087.6 379.6L1084.3 384.4L1081.0 389.4L1077.5 394.7L1074.0 400.1L1070.4 405.7L1066.6 411.8L1062.4 418.8L1057.7 426.7L1052.6 435.5L1047.3 444.9L1041.7 454.7L1036.0 465.0L1030.0 475.8L1023.8 487.1L1017.6 498.7L1011.2 510.8L1004.6 523.3L998.0 536.0L991.4 548.7L984.8 561.4L978.1 574.4L971.6 587.0L965.5 598.7L960.1 608.9L955.1 618.1L950.1 627.4L944.7 637.8L938.4 649.9L931.7 663.1L924.9 676.4L918.7 688.8L912.6 700.9L906.7 712.9L901.6 723.4L898.0 730.7z" fill="#000"/>
<path d="M1286.3 559.5L1362 414" stroke="#000" stroke-width="5.5" fill="none"/>
<path d="M1339.5 426.5L1362.5 413.5L1368 443.5" stroke="#000" stroke-width="5.6" fill="none" stroke-linecap="round" stroke-linejoin="round"/>
<ellipse cx="902.1" cy="728.9" rx="22.6" ry="20.5" fill="none" stroke="#000" stroke-width="4.7"/>
<ellipse cx="1293" cy="561.3" rx="29.2" ry="23.9" fill="none" stroke="#000" stroke-width="4.7"/>
</svg>
<div id="note"><p><span class="k">メジャーサイクル</span><span class="d">４９日目</span><span class="h">で終了か！？</span></p></div>
<div id="oct"><div style="left:6px;top:25px;width:187px;height:24px;background:#fff"></div><div class="btn" style="left:6px;top:25px;width:44px;height:23px;"><b>SELL</b></div><div class="btn" style="left:149px;top:25px;width:44px;height:23px;"><b>BUY</b></div><div style="left:52px;top:25px;width:96px;height:20px;background:#fff;border:1px solid #b0b0b0;"></div><div style="left:53px;top:26px;width:19px;height:18px;background:#f8f8f8;border-right:1px solid #a8a8a8;"></div><div style="left:128px;top:26px;width:19px;height:18px;background:#f8f8f8;border-left:1px solid #a8a8a8;"></div><div style="left:58px;top:33px;width:0;height:0;border-left:3px solid transparent;border-right:3px solid transparent;border-top:4px solid #111;"></div><div style="left:133px;top:32px;width:0;height:0;border-left:3px solid transparent;border-right:3px solid transparent;border-bottom:4px solid #111;"></div><div style="left:72px;top:26px;width:52px;height:18px;color:#222;font-size:10.5px;line-height:19px;text-align:right;">0.01</div><div class="pr" style="left:6px;top:47px;width:93px;height:35px;"><span style="left:19px;top:18.6px;font-size:10.5px;font-weight:bold;letter-spacing:-0.3px">161</span><span style="left:39.5px;top:1.2px;font-size:30px;letter-spacing:-0.8px">78</span><span style="left:76.5px;top:5px;font-size:10.5px;">6</span></div><div class="pr" style="left:101px;top:47px;width:92px;height:35px;"><span style="left:18px;top:18.6px;font-size:10.5px;font-weight:bold;letter-spacing:-0.3px">161</span><span style="left:39.5px;top:1.2px;font-size:30px;letter-spacing:-0.8px">80</span><span style="left:77px;top:5px;font-size:10.5px;">7</span></div><div style="left:10px;top:46px;width:36px;height:1px;background:#1c1cb8;"></div><div style="left:10px;top:47px;width:36px;height:1px;background:#8c8cf8;"></div><div style="left:153px;top:46px;width:36px;height:1px;background:#1c1cb8;"></div><div style="left:153px;top:47px;width:36px;height:1px;background:#8c8cf8;"></div></div>
</body></html>
